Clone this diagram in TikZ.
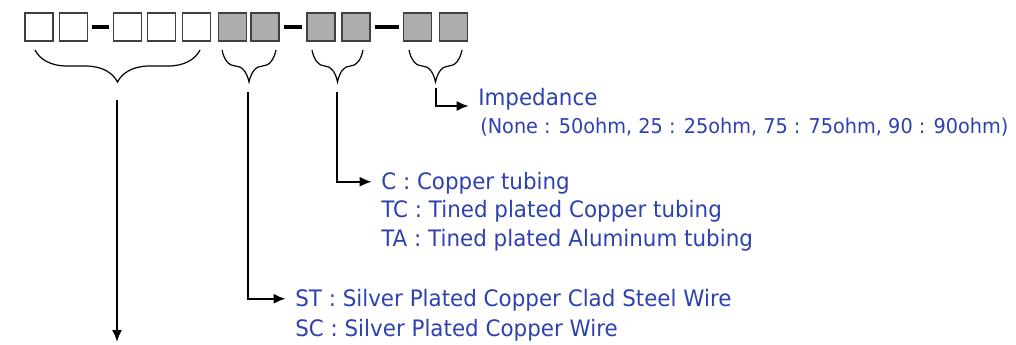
\documentclass[tikz,border=0pt]{standalone}
\usepackage{fontspec}
\setmainfont{DejaVu Sans}
\newfontfamily\descfont[FakeStretch=0.945]{DejaVu Sans}
\usetikzlibrary{arrows.meta,decorations.pathreplacing}
\definecolor{codeblue}{RGB}{45,65,175}

\begin{document}
\begin{tikzpicture}[x=0.75pt,y=-0.75pt,
        cell/.style={draw=black!75,line width=0.9pt,minimum size=21pt,inner sep=0pt},
        code/.style={cell,fill=black!32},
        hyph/.style={line width=3pt,shorten <=3pt,shorten >=3pt},
        curly/.style={decorate,decoration={brace,mirror,amplitude=24pt},line width=0.9pt},
        lead/.style={line width=1.4pt,shorten >=7pt,-{Latex[length=9pt,width=7.5pt]}},
        desc/.style={anchor=south west,text=codeblue,inner sep=0pt,text height=12pt,text depth=0pt,
            font=\descfont\fontsize{17}{19}\selectfont}]
    \useasboundingbox (0,0) rectangle (1016,344);
    % code boxes
    \node[cell] (b1) at (39,27) {};
    \node[cell] (b2) at (73.5,27) {};
    \node[cell] (b3) at (127.5,27) {};
    \node[cell] (b4) at (161.5,27) {};
    \node[cell] (b5) at (196.5,27) {};
    \node[code] (b6) at (232.5,27) {};
    \node[code] (b7) at (265,27) {};
    \node[code] (b8) at (321,27) {};
    \node[code] (b9) at (356,27) {};
    \node[code] (b10) at (417.5,27) {};
    \node[code] (b11) at (453.5,27) {};
    \draw[hyph] (b2) -- (b3);
    \draw[hyph] (b7) -- (b8);
    \draw[hyph] (b9) -- (b10);
    % braces
    \draw[curly] (35,50) -- (200,50);
    \draw[curly] (222,50) -- (276,50);
    \draw[curly] (312,50) -- (363,50);
    \draw[curly] (409,50) -- (462,50);
    \coordinate (t1) at (117,100);
    \coordinate (t2) at (248,92);
    \coordinate (t3) at (337,92);
    \coordinate (t4) at (436,88);
    \coordinate (e1) at (117,342);
    % descriptions
    \node[desc] (imp) at (478,106) {Impedance};
    \node[desc,font=\descfont\fontsize{15.3}{17}\selectfont] (impval) at (480,134)
        {(None : 50ohm, 25 : 25ohm, 75 : 75ohm, 90 : 90ohm)};
    \node[desc] (cu) at (381,190) {C : Copper tubing};
    \node[desc] (tc) at (381,218) {TC : Tined plated Copper tubing};
    \node[desc] (ta) at (381,247) {TA : Tined plated Aluminum tubing};
    \node[desc] (st) at (295,307) {ST : Silver Plated Copper Clad Steel Wire};
    \node[desc] (sc) at (295,337) {SC : Silver Plated Copper Wire};
    % leaders
    \draw[lead,shorten >=0pt] (t1) -- (e1);
    \draw[lead] (t2) |- (st.west);
    \draw[lead] (t3) |- (cu.west);
    \draw[lead] (t4) |- (imp.south west);
\end{tikzpicture}
\end{document}
